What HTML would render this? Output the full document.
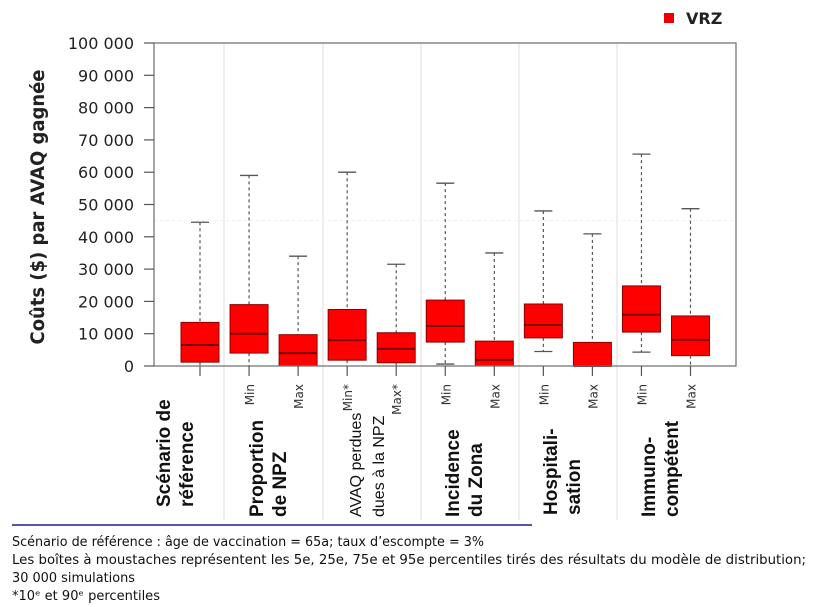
<!DOCTYPE html>
<html><head><meta charset="utf-8"><style>
body{margin:0;background:#fff;}
svg{display:block;font-family:"DejaVu Sans","Liberation Sans",sans-serif;}
</style></head><body>
<svg id="chart" width="821" height="607" viewBox="0 0 821 607" xmlns="http://www.w3.org/2000/svg">
<g id="grid"></g>
<g id="boxes"></g>
<g id="axis"></g>
<g id="labels"></g>
<g>
  <rect x="664" y="13" width="10" height="10" fill="#ee0000"/>
  <text x="686" y="24" font-size="16" font-weight="bold" fill="#222">VRZ</text>
</g>
<text transform="translate(44,207) rotate(-90)" text-anchor="middle" font-size="19" font-weight="bold" fill="#222" textLength="275" lengthAdjust="spacingAndGlyphs">Coûts ($) par AVAQ gagnée</text>
<line x1="12" y1="525" x2="532" y2="525" stroke="#1a237e" stroke-width="1.5"/>
<g font-size="13" fill="#111">
  <text x="12" y="546" textLength="472" lengthAdjust="spacingAndGlyphs">Scénario de référence : âge de vaccination = 65a; taux d’escompte = 3%</text>
  <text x="12" y="564" textLength="794" lengthAdjust="spacingAndGlyphs">Les boîtes à moustaches représentent les 5e, 25e, 75e et 95e percentiles tirés des résultats du modèle de distribution;</text>
  <text x="12" y="582" textLength="123" lengthAdjust="spacingAndGlyphs">30 000 simulations</text>
  <text x="12" y="600" textLength="148" lengthAdjust="spacingAndGlyphs">*10ᵉ et 90ᵉ percentiles</text>
</g>
</svg>
<script>
const yTicks=[0,10000,20000,30000,40000,50000,60000,70000,80000,90000,100000];
const tickLabels=["0","10 000","20 000","30 000","40 000","50 000","60 000","70 000","80 000","90 000","100 000"];
const boxNames=["ref","npz-min","npz-max","avaq-min","avaq-max","inc-min","inc-max","hosp-min","hosp-max","imm-min","imm-max"];
const whiskerLow=[0,0,0,0,0,600,0,4500,0,4300,0];
const q1=[1200,4000,0,1800,1000,7400,0,8700,0,10500,3200];
const median=[6500,10000,4000,8000,5300,12400,1900,12700,0,15900,8100];
const q3=[13500,19000,9700,17500,10300,20400,7700,19200,7300,24800,15500];
const whiskerHigh=[44500,59000,34000,60000,31500,56600,35000,48000,40900,65600,48700];
const subLabels=["","Min","Max","Min*","Max*","Min","Max","Min","Max","Min","Max"];
const groupLabels=[["Scénario de","référence"],["Proportion","de NPZ"],["AVAQ perdues","dues à la NPZ"],["Incidence","du Zona"],["Hospitali-","sation"],["Immuno-","compétent"]];
const NS="http://www.w3.org/2000/svg";
const X0=154,X1=736,Y0=366,Y1=43;
function y(v){return Y0-(v/100000)*(Y0-Y1);}
function xc(i){return 200+i*49.05;}
function mk(p,tag,a){const e=document.createElementNS(NS,tag);for(const k in a)e.setAttribute(k,a[k]);p.appendChild(e);return e;}
const grid=document.getElementById('grid'),boxes=document.getElementById('boxes'),axis=document.getElementById('axis'),labels=document.getElementById('labels');
const divs=[224,323,421,519,617];
divs.forEach((d,i)=>{const l=mk(grid,'line',{x1:d,y1:Y1,x2:d,y2:520,stroke:'#ddd','stroke-width':1});

});
const fl=mk(grid,'line',{x1:X0,y1:y(45000),x2:X1,y2:y(45000),stroke:'#f0f0f0','stroke-width':1,'stroke-dasharray':'3 3'});


const fr=mk(axis,'rect',{x:X0,y:Y1,width:X1-X0,height:Y0-Y1,fill:'none',stroke:'#777','stroke-width':1.3});


yTicks.forEach((v,i)=>{
 const t=mk(axis,'line',{x1:144,y1:y(v),x2:X0,y2:y(v),stroke:'#555','stroke-width':1.2});
 
 
 const tx=mk(axis,'text',{x:134,y:y(v)+6,'text-anchor':'end','font-size':16,fill:'#222'});
 tx.textContent=tickLabels[i];
 
 
});
boxNames.forEach((n,i)=>{
 const cx=xc(i),w=38;
 const g=mk(boxes,'g',{});
 
 
 mk(g,'line',{x1:cx,y1:y(whiskerHigh[i]),x2:cx,y2:y(q3[i]),stroke:'#555','stroke-width':1.2,'stroke-dasharray':'3 3'});
 mk(g,'line',{x1:cx,y1:y(q1[i]),x2:cx,y2:y(whiskerLow[i]),stroke:'#555','stroke-width':1.2,'stroke-dasharray':'3 3'});
 mk(g,'line',{x1:cx-9,y1:y(whiskerHigh[i]),x2:cx+9,y2:y(whiskerHigh[i]),stroke:'#555','stroke-width':1.3});
 if(whiskerLow[i]>0)mk(g,'line',{x1:cx-9,y1:y(whiskerLow[i]),x2:cx+9,y2:y(whiskerLow[i]),stroke:'#555','stroke-width':1.3});
 mk(g,'rect',{x:cx-w/2,y:y(q3[i]),width:w,height:y(q1[i])-y(q3[i]),fill:'#ff0000',stroke:'#8b0000','stroke-width':1});
 mk(g,'line',{x1:cx-w/2,y1:y(median[i]),x2:cx+w/2,y2:y(median[i]),stroke:'#7a0000','stroke-width':2});
 const xt=mk(axis,'line',{x1:cx,y1:Y0,x2:cx,y2:376,stroke:'#555','stroke-width':1.2});
 
 
 if(subLabels[i]){
  const s=mk(labels,'text',{transform:`translate(${cx+5},384) rotate(-90)`,'text-anchor':'end','font-size':12,fill:'#333'});
  s.textContent=subLabels[i];
  
  
 }
});
const gx=[[170,193],[263,286],[361,384],[459,482],[557,580],[655,678]];
const gy=[507,517,517,517,515,517];
groupLabels.forEach((gl,i)=>{
 gl.forEach((line,j)=>{
  const small=(i===2);
  const t=mk(labels,'text',{transform:`translate(${gx[i][j]},${gy[i]}) rotate(-90)`,'font-family':'"Liberation Sans",sans-serif','font-size':small?16:19,'font-weight':small?'normal':'bold',fill:'#111'});
  t.textContent=line;
  
  
 });
});
</script>
</body></html>
